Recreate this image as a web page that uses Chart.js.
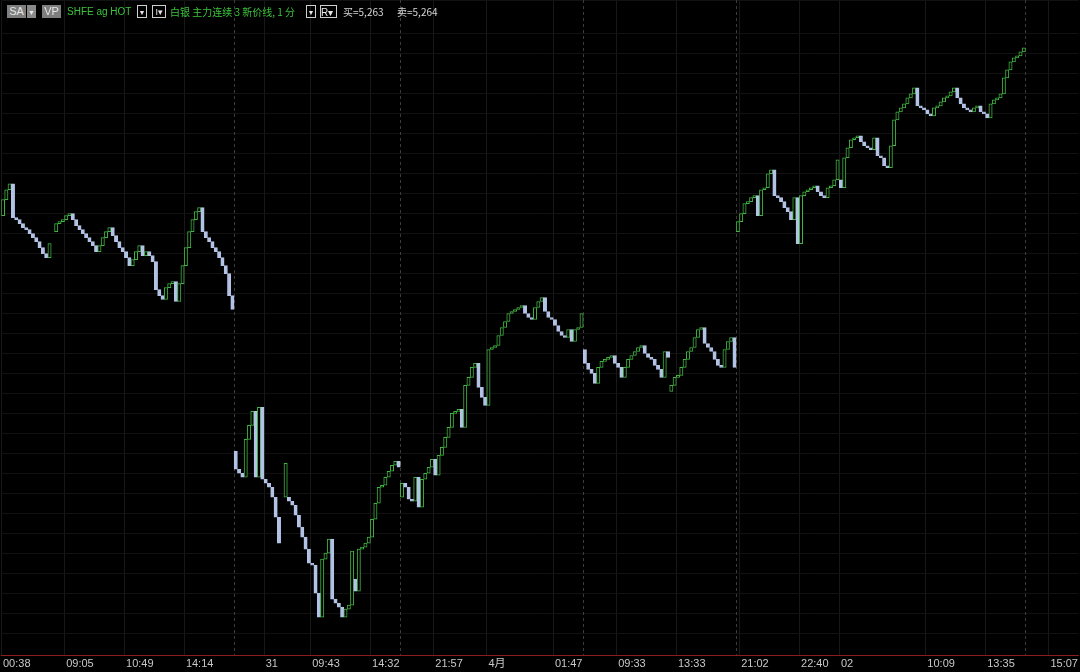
<!DOCTYPE html>
<html>
<head>
<meta charset="utf-8">
<script src="https://cdn.jsdelivr.net/npm/chart.js@4.4.1/dist/chart.umd.min.js"></script>
<style>
  html,body{margin:0;padding:0;background:#000;}
  #wrap{position:relative;width:1080px;height:672px;background:#000;overflow:hidden;}
  #c{position:absolute;left:0;top:0;}
  .hd{position:absolute;top:5px;height:13px;line-height:13px;font-family:"Liberation Sans",Arial,"Noto Sans CJK SC",sans-serif;font-size:10px;white-space:nowrap;}
  .btn{background:#7e7e7e;color:#e6e6e6;text-align:center;font-size:11px;}
  .dd{border:1px solid #cfcfcf;box-sizing:border-box;color:#e8e8e8;text-align:center;font-size:7px;}
  .g{color:#3cc43c;}
  .w{color:#d6d6d6;}
</style>
</head>
<body>
<div id="wrap">
  <canvas id="c" width="1080" height="672"></canvas>
  <div class="hd btn" style="left:7px;width:19px;">SA</div>
  <div class="hd dd" style="left:27px;width:9px;background:#8a8a8a;border-color:#8a8a8a;">▼</div>
  <div class="hd btn" style="left:42px;width:19px;">VP</div>
  <div class="hd g" style="left:67px;">SHFE ag HOT</div>
  <div class="hd dd" style="left:137px;width:10px;">▼</div>
  <div class="hd dd" style="left:152px;width:14px;text-align:left;font-size:9px;">&nbsp;I▾</div>
  <div class="hd g" style="left:170px;font-family:'Noto Sans CJK SC','Liberation Sans',sans-serif;font-size:10px;">白银 主力连续 3 新价线, 1 分</div>
  <div class="hd dd" style="left:306px;width:10px;">▼</div>
  <div class="hd dd" style="left:320px;width:17px;text-align:left;font-size:10px;">R▾</div>
  <div class="hd w" style="left:343px;font-family:'Noto Sans CJK SC','Liberation Sans',sans-serif;">买=5,263</div>
  <div class="hd w" style="left:397px;font-family:'Noto Sans CJK SC','Liberation Sans',sans-serif;">卖=5,264</div>
</div>
<script>
// closing price of each new-price-line brick (one slot per brick), null = empty slot
const closes = [
  // session 1
  5187,5192,5195,5178,5177,5175,5173,5172,5170,5168,5166,5163,5160,5158,5165,null,
  // session 2
  5175,5176,5177,5179,5180,5177,5174,5172,5170,5168,5166,5164,5161,5164,5168,5171,5173,5169,5166,5163,
  5161,5158,5154,5157,5161,5164,5159,5161,5159,5156,5142,5139,5137,5143,5145,5146,5136,5145,5154,5163,
  5171,5177,5181,5183,5171,5168,5166,5163,5161,5158,5154,5150,5139,5132,
  // session 3 (31)
  5052,5050,5048,5067,5074,5081,5048,5083,5047,5045,5043,5038,5028,5015,null,5055,5036,5034,5029,5023,
  5018,5012,5005,5004,4990,4978,5007,5010,5017,4987,4985,4983,4978,4982,4984,5011,4991,5012,5013,5015,
  5018,5027,5035,5043,5044,5048,5051,5054,5056,5053,
  // session 4
  5045,5043,5037,5036,5048,5033,5047,5050,5053,5057,5049,5059,5063,5068,5073,5080,5081,5082,5073,5094,
  5098,5103,5105,5093,5088,5084,5112,5113,5114,5119,5123,5126,5130,5131,5132,5133,5134,5130,5128,5127,
  5133,5136,5138,5131,5128,5127,5124,5121,5119,5118,5122,5116,5122,5123,5130,
  // session 5 (4月)
  5105,5102,5100,5095,5103,5106,5107,5108,5109,5105,5103,5098,5103,5107,5109,5111,5113,5114,5110,5108,
  5107,5104,5102,5098,5111,5108,5094,5098,5099,5103,5107,5111,5113,5118,5122,5123,5115,5113,5111,5107,
  5104,5103,5112,5116,5118,5103,
  // session 6
  5176,5180,5185,5186,5188,5189,5179,5192,5193,5200,5202,5189,5188,5186,5183,5181,5177,5188,5165,5189,
  5191,5192,5193,5194,5191,5189,5188,5193,5194,5197,5207,5193,5208,5213,5217,5218,5219,5216,5214,5213,
  5212,5218,5209,5208,5204,5203,5214,5227,5231,5233,5235,5238,5240,5243,5234,5233,5232,5230,5229,5233,
  5234,5236,5238,5239,5241,5243,5238,5235,5233,5232,5231,5233,5234,5231,5230,5228,5235,5237,5238,5240,
  5248,5252,5256,5258,5259,5261,5263,
  // empty slots to the right edge
  null,null,null,null,null,null,null,null,null,null,null,null,null,null,null,null
];
// bricks whose start price is not the previous close: [slot, open]
const jumpOpens = [[0,5179],[16,5171],[70,5061],[85,5038],[86,5038],[106,4997],[120,5038],[175,5112],[201,5091],[221,5171],[252,5197]];
// time axis labels and the slots they sit on
const timeLabels = ['00:38','09:05','10:49','14:14','31','09:43','14:32','21:57','4月','01:47','09:33','13:33','21:02','22:40','02','10:09','13:35','15:07'];
const timeSlots  = [0,19,37,55,79,93,111,130,146,166,185,203,222,240,252,278,296,315];
// slots where a new session starts (dashed separators)
const sessionStarts = [70,120,175,221,308];
const priceMin = 4959, priceMax = 5287;

const UP = '#42b442', DOWN = '#b3c3e6';
const openMap = new Map(jumpOpens);
const bricks = closes.map((c, i) => {
  if (c === null) return null;
  let o = openMap.has(i) ? openMap.get(i) : (i > 0 ? closes[i-1] : null);
  if (o === null || o === undefined) return null;
  return [o, c];
});
const isUp = bricks.map(b => b && b[1] > b[0]);
const slotNames = closes.map((_, i) => String(i));
const tickText = {}; timeSlots.forEach((s, k) => tickText[s] = timeLabels[k]);

const sepPlugin = {
  id: 'sessionSeparators',
  beforeDatasetsDraw(chart) {
    const x = chart.scales.x, ca = chart.chartArea, c = chart.ctx;
    const half = x.width / slotNames.length / 2;
    c.save();
    c.strokeStyle = '#3c3c3c'; c.lineWidth = 1; c.setLineDash([3, 3]);
    sessionStarts.forEach(s => {
      const px = Math.round(x.getPixelForValue(s) - half) + 0.5;
      c.beginPath(); c.moveTo(px, ca.top); c.lineTo(px, ca.bottom); c.stroke();
    });
    c.restore();
  }
};

new Chart(document.getElementById('c'), {
  type: 'bar',
  data: {
    labels: slotNames,
    datasets: [{
      data: bricks,
      backgroundColor: ctx => isUp[ctx.dataIndex] ? '#000' : DOWN,
      borderColor: ctx => isUp[ctx.dataIndex] ? UP : DOWN,
      borderWidth: 1,
      borderSkipped: false,
      barPercentage: 1,
      categoryPercentage: 1
    }]
  },
  options: {
    responsive: false,
    animation: false,
    layout: { padding: 0 },
    plugins: { legend: { display: false }, tooltip: { enabled: false } },
    scales: {
      x: {
        offset: true,
        grid: {
          offset: true,
          drawTicks: false,
          color: ctx => (tickText[ctx.index] !== undefined ? '#181818' : 'rgba(0,0,0,0)'),
          lineWidth: 1
        },
        border: { display: true, color: '#8e1c1c', width: 1 },
        ticks: {
          autoSkip: false, maxRotation: 0, minRotation: 0, align: 'start',
          color: '#c8c8c8', padding: 3,
          font: { family: "'Liberation Sans', Arial, 'Noto Sans CJK SC', sans-serif", size: 11, lineHeight: 1 },
          callback: (v, i) => (tickText[i] !== undefined ? tickText[i] : '')
        }
      },
      y: {
        min: priceMin, max: priceMax,
        ticks: { display: false, stepSize: 10 },
        grid: { color: '#121212', drawTicks: false },
        border: { display: false }
      }
    }
  },
  plugins: [sepPlugin]
});
</script>
</body>
</html>
